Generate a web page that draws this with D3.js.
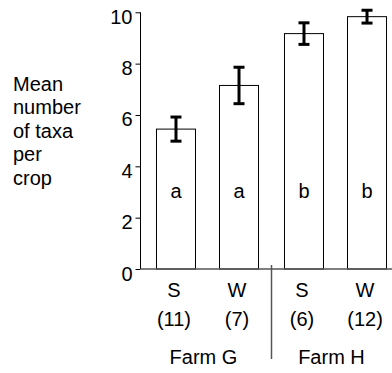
<!DOCTYPE html>
<html>
<head>
<meta charset="utf-8">
<script src="https://cdn.jsdelivr.net/npm/d3@7"></script>
<style>
  html, body { margin: 0; padding: 0; background: #fff; }
  svg { display: block; }
  text { font-family: "Liberation Sans", Arial, Helvetica, sans-serif; fill: #000; }
</style>
</head>
<body>
<script>
// ---- data ----
const farms = ["Farm G", "Farm H"];
const seasons = ["S", "W"];
const sampleSizes = ["(11)", "(7)", "(6)", "(12)"];
const means = [5.45, 7.15, 9.17, 9.83];
const stdErrors = [0.47, 0.71, 0.42, 0.25];
const groupLetters = ["a", "a", "b", "b"];
const yTicks = [0, 2, 4, 6, 8, 10];
const yLabelLines = ["Mean", "number", "of taxa", "per", "crop"];

const rows = [];
farms.forEach((f, i) => seasons.forEach((s, j) => {
  const k = i * seasons.length + j;
  rows.push({ farm: f, season: s, n: sampleSizes[k], mean: means[k], se: stdErrors[k], letter: groupLetters[k] });
}));

// ---- layout ----
const W = 392, H = 373;
const svg = d3.select("body").append("svg").attr("width", W).attr("height", H);

const y = d3.scaleLinear().domain([0, 10]).range([269, 12.3]);
const x0 = d3.scaleBand().domain(farms).range([143.5, 399.5]).padding(0);
const x1 = d3.scaleBand().domain(seasons).range([0, x0.bandwidth()]).paddingInner(0.381).paddingOuter(0.206);
const cx = d => x0(d.farm) + x1(d.season) + x1.bandwidth() / 2;
const axisX = 140.5;
const fs = 20;

// y axis
const yAxis = svg.append("g").attr("transform", `translate(${axisX},0)`)
  .call(d3.axisLeft(y).tickValues(yTicks).tickSize(5).tickPadding(3).tickFormat(d3.format("d")));
yAxis.select(".domain").attr("d", `M0,${y(10)}V${y(0)}`).attr("stroke", "#000").attr("stroke-width", 1);
yAxis.selectAll(".tick line").attr("stroke", "#000");
yAxis.selectAll(".tick text").attr("font-size", fs).attr("dy", "0.55em")
  .style("font-family", '"Liberation Sans", Arial, Helvetica, sans-serif').attr("fill", "#000");

// bars
svg.append("g").selectAll("rect").data(rows).join("rect")
  .attr("x", d => x0(d.farm) + x1(d.season))
  .attr("width", x1.bandwidth())
  .attr("y", d => y(d.mean))
  .attr("height", d => y(0) - y(d.mean))
  .attr("fill", "#fff").attr("stroke", "#000").attr("stroke-width", 1);

// baseline
svg.append("line").attr("x1", axisX).attr("x2", W).attr("y1", y(0)).attr("y2", y(0))
  .attr("stroke", "#555").attr("stroke-width", 1.6);

// error bars
const eb = svg.append("g").attr("stroke", "#000").attr("stroke-width", 3);
eb.selectAll("line.v").data(rows).join("line").attr("class", "v")
  .attr("x1", cx).attr("x2", cx)
  .attr("y1", d => y(d.mean + d.se)).attr("y2", d => y(d.mean - d.se));
eb.selectAll("line.t").data(rows).join("line").attr("class", "t")
  .attr("x1", d => cx(d) - 5.5).attr("x2", d => cx(d) + 5.5)
  .attr("y1", d => y(d.mean + d.se)).attr("y2", d => y(d.mean + d.se));
eb.selectAll("line.b").data(rows).join("line").attr("class", "b")
  .attr("x1", d => cx(d) - 5.5).attr("x2", d => cx(d) + 5.5)
  .attr("y1", d => y(d.mean - d.se)).attr("y2", d => y(d.mean - d.se));

// letters inside bars
svg.append("g").selectAll("text").data(rows).join("text")
  .attr("x", cx).attr("y", 198).attr("text-anchor", "middle").attr("font-size", fs)
  .text(d => d.letter);

// season labels and n
svg.append("g").selectAll("text").data(rows).join("text")
  .attr("x", d => cx(d) - 2).attr("y", 297).attr("text-anchor", "middle").attr("font-size", fs)
  .text(d => d.season);
svg.append("g").selectAll("text").data(rows).join("text")
  .attr("x", d => cx(d) - 2).attr("y", 326).attr("text-anchor", "middle").attr("font-size", fs)
  .text(d => d.n);

// farm labels
svg.append("g").selectAll("text").data(farms).join("text")
  .attr("x", d => x0(d) + x0.bandwidth() / 2 - 4).attr("y", 364).attr("text-anchor", "middle").attr("font-size", fs)
  .text(d => d);

// separator
svg.append("line").attr("x1", x0("Farm H")).attr("x2", x0("Farm H"))
  .attr("y1", 265).attr("y2", 359).attr("stroke", "#555").attr("stroke-width", 1.5);

// y label
svg.append("g").selectAll("text").data(yLabelLines).join("text")
  .attr("x", 13).attr("y", (d, i) => 90.5 + i * 23.6).attr("font-size", fs)
  .text(d => d);
</script>
</body>
</html>
